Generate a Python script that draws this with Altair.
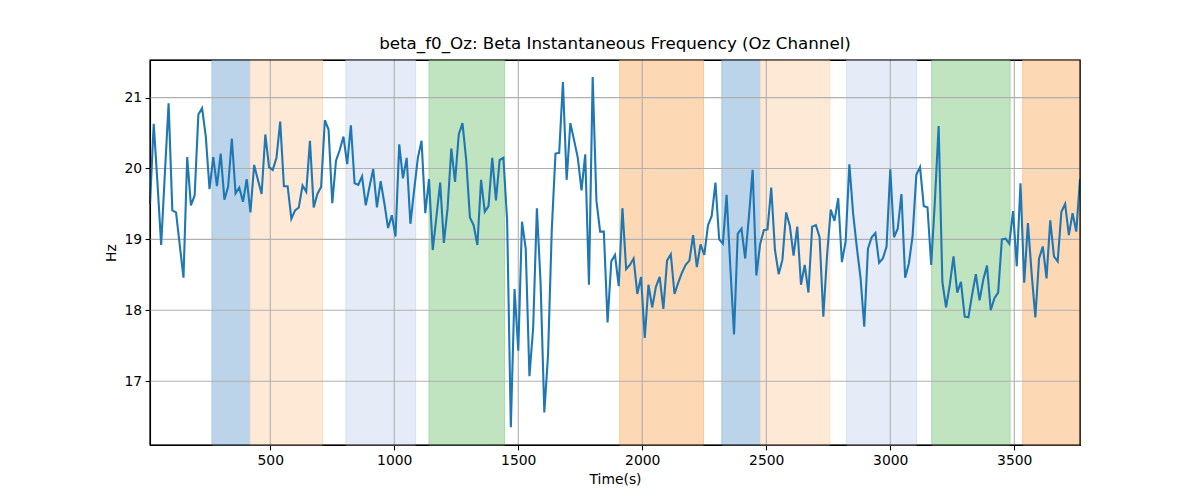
import altair as alt
import pandas as pd

# ---- data ----
T_START = 15      # seconds, first sample
T_STEP = 15       # seconds between samples

freq_part1 = [19.50, 20.63, 19.80, 18.92, 19.93, 20.92, 19.41, 19.38, 18.92, 18.46,
              20.16, 19.48, 19.62, 20.76, 20.85, 20.45, 19.71, 20.16, 19.75, 20.21,
              19.56, 19.74, 20.42, 19.65, 19.73, 19.53, 19.85, 19.38, 20.05, 19.84,
              19.64, 20.48, 20.02, 19.98, 20.15, 20.66, 19.75, 19.75, 19.29, 19.41,
              19.45, 19.76, 19.67, 20.39, 19.45, 19.64, 19.74, 20.68, 20.55, 19.51]
freq_part2 = [20.11, 20.26, 20.45, 20.06, 20.61, 19.79, 19.77, 19.89, 19.48, 19.74,
              19.99, 19.45, 19.82, 19.51, 19.16, 19.34, 19.04, 20.34, 19.86, 20.15,
              19.22, 19.69, 20.15, 20.39, 19.37, 19.85, 18.85, 19.32, 19.80, 18.95,
              19.44, 20.28, 19.81, 20.48, 20.64, 20.12, 19.31, 19.20, 18.92, 19.84,
              19.39, 19.47, 20.15, 19.55, 20.12, 20.15, 19.27, 16.35, 18.30, 17.43]
freq_part3 = [19.25, 18.87, 17.07, 17.75, 19.44, 18.38, 16.56, 17.37, 19.13, 20.21,
              20.22, 21.22, 19.84, 20.64, 20.40, 20.15, 19.69, 20.20, 18.36, 21.29,
              19.55, 19.11, 19.11, 17.83, 18.69, 18.78, 18.34, 19.44, 18.58, 18.64,
              18.73, 18.23, 18.47, 17.61, 18.36, 18.04, 18.33, 18.47, 18.02, 18.70,
              18.79, 18.23, 18.39, 18.53, 18.64, 18.70, 19.06, 18.61, 18.93, 18.78]
freq_part4 = [19.20, 19.33, 19.80, 19.00, 18.94, 19.63, 18.61, 17.66, 19.08, 19.15,
              18.73, 19.32, 19.98, 18.49, 18.93, 19.13, 19.14, 19.73, 18.85, 18.51,
              18.71, 19.38, 19.19, 18.77, 19.18, 18.36, 18.64, 18.25, 19.18, 19.20,
              19.03, 17.91, 18.77, 19.42, 19.26, 19.58, 18.68, 18.97, 20.06, 19.37,
              18.89, 18.46, 17.77, 18.87, 19.03, 19.09, 18.67, 18.73, 18.90, 19.99]
freq_part5 = [19.03, 19.15, 19.64, 18.46, 18.66, 19.05, 19.91, 20.02, 19.47, 19.45,
              18.64, 19.55, 20.60, 18.40, 18.04, 18.36, 18.76, 18.25, 18.40, 17.91,
              17.90, 18.22, 18.51, 18.14, 18.43, 18.63, 18.00, 18.17, 18.25, 19.00,
              19.01, 18.94, 19.40, 18.62, 19.79, 18.39, 19.23, 18.52, 17.90, 18.73,
              18.90, 18.45, 19.27, 18.76, 18.69, 19.39, 19.50, 19.06, 19.37, 19.11,
              19.85]

freq = freq_part1 + freq_part2 + freq_part3 + freq_part4 + freq_part5
time_s = [T_START + T_STEP * i for i in range(len(freq))]

band_start = [265, 419, 805, 1140, 1909, 2321, 2477, 2824, 3167, 3534]
band_end = [419, 711, 1086, 1445, 2247, 2477, 2756, 3106, 3483, 3765]
band_kind = ["blue", "lightorange", "lightblue", "green", "orange",
             "blue", "lightorange", "lightblue", "green", "orange"]
kind_names = ["blue", "lightorange", "lightblue", "green", "orange"]
kind_colors = ["#bbd4e9", "#fee9d6", "#e5ecf7", "#c0e3c0", "#fdd8b5"]
kind_edges = ["#a3c5e0", "#fcdcbf", "#d6e1f2", "#a9d8a9", "#fcc898"]

x_ticks = [500, 1000, 1500, 2000, 2500, 3000, 3500]
y_ticks = [17, 18, 19, 20, 21]

x_domain = [15, 3765]
y_domain = [16.10, 21.53]

# ---- tables ----
line_df = pd.DataFrame({"time": time_s, "hz": freq})
band_df = pd.DataFrame({"start": band_start, "end": band_end, "kind": band_kind})
xg_df = pd.DataFrame({"t": x_ticks})
yg_df = pd.DataFrame({"v": y_ticks})
frame_df = pd.DataFrame({"x0": [x_domain[0]], "x1": [x_domain[1]],
                         "y0": [y_domain[0]], "y1": [y_domain[1]]})

xs = alt.Scale(domain=x_domain, nice=False, zero=False)
ys = alt.Scale(domain=y_domain, nice=False, zero=False)

FONT = "DejaVu Sans"

x_axis = alt.Axis(values=x_ticks, title="Time(s)", format="d", grid=False)
y_axis = alt.Axis(values=y_ticks, title="Hz", format="d", grid=False)

bands = alt.Chart(band_df).mark_rect(strokeWidth=1).encode(
    x=alt.X("start:Q", scale=xs, axis=x_axis),
    x2="end:Q",
    color=alt.Color("kind:N", scale=alt.Scale(domain=kind_names, range=kind_colors), legend=None),
    stroke=alt.Stroke("kind:N", scale=alt.Scale(domain=kind_names, range=kind_edges), legend=None),
)

xgrid = alt.Chart(xg_df).mark_rule(color="#b0b0b0", strokeWidth=1.1).encode(
    x=alt.X("t:Q", scale=xs, axis=x_axis)
)
ygrid = alt.Chart(yg_df).mark_rule(color="#b0b0b0", strokeWidth=1.1).encode(
    y=alt.Y("v:Q", scale=ys, axis=y_axis)
)

line = alt.Chart(line_df).mark_line(color="#1f77b4", strokeWidth=2.1).encode(
    x=alt.X("time:Q", scale=xs, axis=x_axis),
    y=alt.Y("hz:Q", scale=ys, axis=y_axis),
)

frame = alt.Chart(frame_df).mark_rect(
    fillOpacity=0, stroke="black", strokeWidth=1.1, color="white"
).encode(
    x=alt.X("x0:Q", scale=xs, axis=x_axis),
    x2="x1:Q",
    y=alt.Y("y0:Q", scale=ys, axis=y_axis),
    y2="y1:Q",
)

chart = alt.layer(bands, xgrid, ygrid, line, frame).properties(
    width=930,
    height=385,
    autosize="none",
    background="white",
    padding={"left": 142, "top": 52, "right": 112, "bottom": 47},
    title=alt.TitleParams(
        "beta_f0_Oz: Beta Instantaneous Frequency (Oz Channel)",
        font=FONT, fontSize=16.7, fontWeight="normal", color="black",
        anchor="middle", offset=7,
    ),
).configure_view(
    stroke="black", strokeWidth=1.1
).configure_axis(
    labelFont=FONT, labelFontSize=13.9, labelColor="black",
    titleFont=FONT, titleFontSize=13.9, titleColor="black", titleFontWeight="normal",
    tickColor="black", tickWidth=1.1, tickSize=4.9, labelPadding=3.5,
    domainColor="black", domainWidth=1.1, titlePadding=5,
)

chart.save("out.html", embed_options={"renderer": "svg", "actions": False})
